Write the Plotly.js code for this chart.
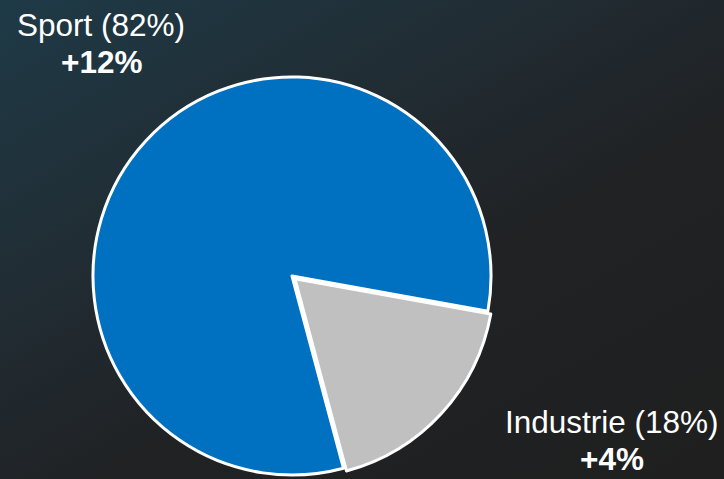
<!DOCTYPE html>
<html>
<head>
<meta charset="utf-8">
<script src="https://cdn.plot.ly/plotly-3.0.1.min.js"></script>
<style>
html,body{margin:0;padding:0;width:724px;height:479px;overflow:hidden;}
body{background:linear-gradient(150deg,#1e3a47 0%,#212c33 35%,#202224 60%,#1f1f1f 100%);}
#chart{width:724px;height:479px;}
</style>
</head>
<body>
<div id="chart"></div>
<script>
const categories = ["Sport", "Industrie"];
const shares = [82, 18];
const changes = ["+12%", "+4%"];
const colors = ["#0070c0", "#c0c0c0"];

const trace = {
  type: "pie",
  labels: categories,
  values: shares,
  sort: false,
  direction: "clockwise",
  rotation: 165,
  pull: [0, 0.02],
  textinfo: "none",
  hoverinfo: "none",
  marker: {colors: colors, line: {color: "#ffffff", width: 3}},
  domain: {x: [88/724, 496/724], y: [0, 406/479]},
  showlegend: false
};

const font = {family: "Liberation Sans, Arial, sans-serif", size: 31.5, color: "#ffffff"};
const pos = [
  {x: 101/724, y1: (479-25)/479, y2: (479-62)/479},
  {x: 612/724, y1: (479-422)/479, y2: (479-459)/479}
];
const annotations = [];
categories.forEach((c, i) => {
  annotations.push({xref: "paper", yref: "paper", x: pos[i].x, y: pos[i].y1, xanchor: "center", yanchor: "middle",
    text: c + " (" + shares[i] + "%)", showarrow: false, font: font});
  annotations.push({xref: "paper", yref: "paper", x: pos[i].x, y: pos[i].y2, xanchor: "center", yanchor: "middle",
    text: "<b>" + changes[i] + "</b>", showarrow: false, font: font});
});

Plotly.newPlot("chart", [trace], {
  width: 724, height: 479,
  margin: {l: 0, r: 0, t: 0, b: 0},
  paper_bgcolor: "rgba(0,0,0,0)",
  plot_bgcolor: "rgba(0,0,0,0)",
  annotations: annotations
}, {displayModeBar: false, staticPlot: true});
</script>
</body>
</html>
